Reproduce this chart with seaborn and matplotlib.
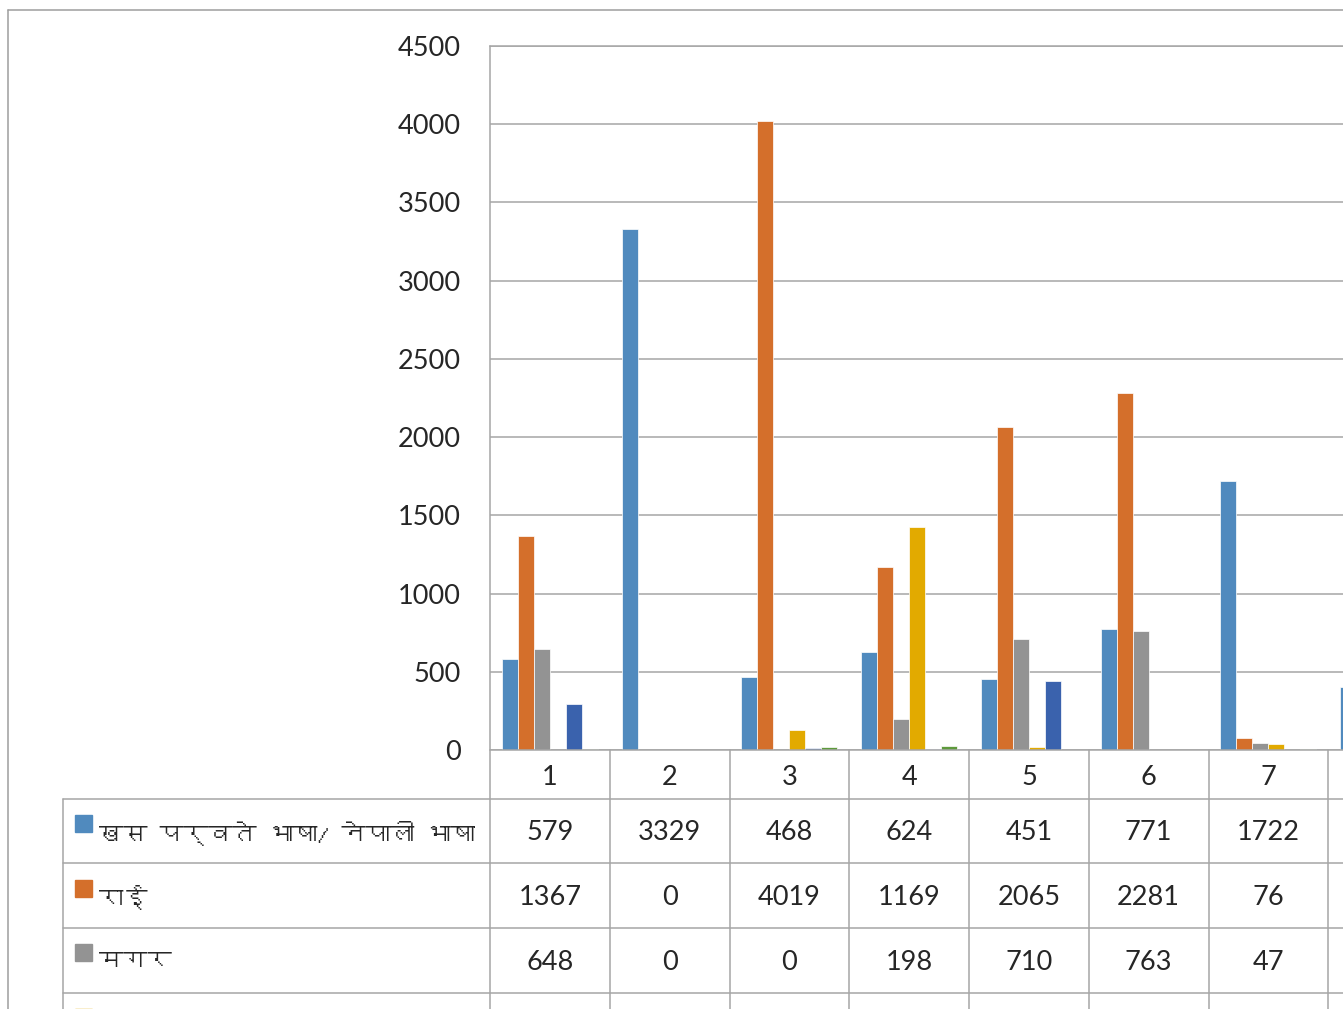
import pandas as pd
import seaborn as sns
import matplotlib.pyplot as plt
from matplotlib import font_manager, transforms
from matplotlib.lines import Line2D
from matplotlib.patches import Rectangle

# Data (category 8 is only partly visible)
categories = ['1', '2', '3', '4', '5', '6', '7', '8']
series_names = ['खस पर्वते भाषा/ नेपाली भाषा', 'राई', 'मगर', 's4', 's5', 's6']
khas = [579, 3329, 468, 624, 451, 771, 1722, 405]
rai = [1367, 0, 4019, 1169, 2065, 2281, 76, 0]
magar = [648, 0, 0, 198, 710, 763, 47, 0]
s4 = [0, 0, 128, 1426, 20, 0, 38, 0]
s5 = [294, 0, 13, 5, 439, 0, 0, 0]
s6 = [5, 0, 20, 28, 0, 0, 5, 0]
yticks = [0, 500, 1000, 1500, 2000, 2500, 3000, 3500, 4000, 4500]

colors = ['#508ABE', '#D46F2B', '#939393', '#E2AA00', '#3A62AD', '#5E9A3C']
all_series = [khas, rai, magar, s4, s5, s6]

df = pd.DataFrame({
    'cat': categories * len(series_names),
    'series': [n for n in series_names for _ in categories],
    'value': [v for s in all_series for v in s],
})


def find_deva():
    try:
        from fontTools.ttLib import TTFont
    except ImportError:
        return None
    for f in font_manager.fontManager.ttflist:
        try:
            cmap = TTFont(f.fname, fontNumber=0, lazy=True).getBestCmap()
        except Exception:
            continue
        if cmap and 0x0916 in cmap:
            return f.name
    return None


sns.set_style('white')
plt.rcParams['font.family'] = ['Lato', 'DejaVu Sans']
deva = find_deva()
label_family = [deva, 'Lato'] if deva else ['Lato', 'DejaVu Sans']

W, H = 1343, 1009
FX = lambda px: px / W
FY = lambda py: 1 - py / H
grid_c = '#A6A6A6'
lw = 1.1
fs = 19.5

fig = plt.figure(figsize=(W / 100, H / 100), dpi=100)
col_w = 119.75
# plot area runs past the right edge of the picture, as in the cropped original
ax = fig.add_axes([FX(490), FY(750), len(categories) * col_w / W, (750 - 46) / H])

sns.barplot(data=df, x='cat', y='value', hue='series', order=categories,
            hue_order=series_names, palette=colors, saturation=1, width=0.8,
            edgecolor='white', linewidth=0.5, legend=False, ax=ax)

ax.set_ylim(0, 4500)
ax.set_yticks(yticks)
ax.yaxis.grid(True, color=grid_c, linewidth=lw)
ax.set_axisbelow(True)
ax.set_xlabel('')
ax.set_ylabel('')
for side in ['left', 'right']:
    ax.spines[side].set_visible(False)
for side in ['top', 'bottom']:
    ax.spines[side].set_color(grid_c)
    ax.spines[side].set_linewidth(lw)
ax.tick_params(axis='y', length=0, pad=21, labelsize=fs)
ax.tick_params(axis='x', length=0, pad=10.5, labelsize=fs)

# outer chart border
fig.add_artist(Line2D([FX(8), FX(8)], [FY(10), 0], transform=fig.transFigure, color='#9E9E9E', lw=lw))
fig.add_artist(Line2D([FX(8), 1], [FY(10), FY(10)], transform=fig.transFigure, color='#9E9E9E', lw=lw))

# data table
blend = transforms.blended_transform_factory(ax.transData, fig.transFigure)
fig.add_artist(Line2D([FX(490), FX(490)], [FY(46), 0], transform=fig.transFigure, color=grid_c, lw=lw))
fig.add_artist(Line2D([FX(63), FX(63)], [FY(799), 0], transform=fig.transFigure, color=grid_c, lw=lw))
for i in range(len(categories)):
    b = i + 0.5
    fig.add_artist(Line2D([b, b], [FY(750), 0], transform=blend, color=grid_c, lw=lw))
row_lines = [799, 863, 928, 993]
for y in row_lines:
    fig.add_artist(Line2D([FX(63), 1], [FY(y), FY(y)], transform=fig.transFigure, color=grid_c, lw=lw))

for r in range(len(series_names)):
    top = 799 + r * 64.7
    mid = top + 34
    fig.add_artist(Rectangle((FX(75), FY(top + 33)), 17 / W, 17 / H,
                             transform=fig.transFigure, color=colors[r]))
    if r < 3:
        fig.text(FX(99), FY(mid), series_names[r], fontsize=17.5, va='center', ha='left',
                 family=label_family)
    for i, v in enumerate(all_series[r]):
        fig.text(i, FY(mid), str(v), transform=blend, fontsize=fs, ha='center', va='center')

fig.savefig('out.png', dpi=100)
